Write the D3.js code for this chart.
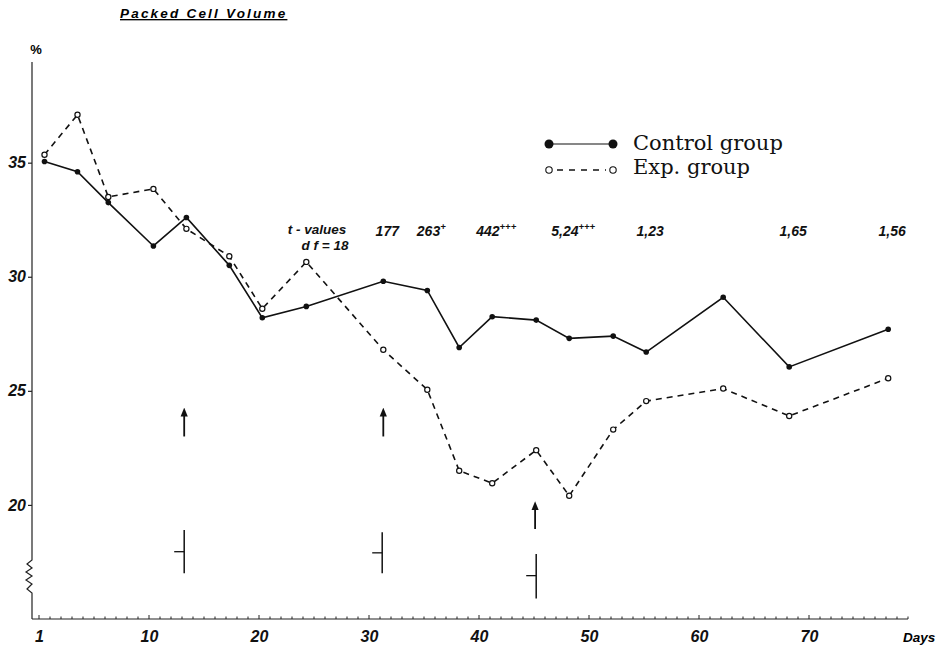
<!DOCTYPE html>
<html><head><meta charset="utf-8">
<script src="https://cdn.jsdelivr.net/npm/d3@7"></script>
<style>body{margin:0;background:#fff}svg{display:block}</style>
</head><body>
<svg id="c" width="943" height="652"></svg>
<script>
// ---- data ----
const days      = [0.5, 3.5, 6.3, 10.4, 13.4, 17.3, 20.3, 24.3, 31.3, 35.3, 38.2, 41.2, 45.2, 48.2, 52.2, 55.2, 62.2, 68.2, 77.2];
const control   = [35.05, 34.6, 33.25, 31.35, 32.6, 30.5, 28.2, 28.7, 29.8, 29.4, 26.9, 28.25, 28.1, 27.3, 27.4, 26.7, 29.1, 26.05, 27.7];
const expGroup  = [35.35, 37.1, 33.5, 33.85, 32.1, 30.9, 28.6, 30.65, 26.8, 25.05, 21.5, 20.95, 22.4, 20.4, 23.3, 24.55, 25.1, 23.9, 25.55];
const xTickValues = [0, 10, 20, 30, 40, 50, 60, 70];
const xTickLabels = ["1", "10", "20", "30", "40", "50", "60", "70"];
const yTickValues = [20, 25, 30, 35];
const tDays   = [31.3, 35.3, 41.2, 48.2, 55.2, 68.2, 77.2];
const tValues = ["177", "263", "442", "5,24", "1,23", "1,65", "1,56"];
const tSig    = ["", "+", "+++", "+++", "", "", ""];
const arrowDays = [13.2, 31.3, 45.1];
const arrowFrom = [23.0, 23.0, 18.95];
const arrowTo   = [24.2, 24.2, 20.1];
const markDays  = [13.2, 31.2, 45.2];
const markTop   = [18.9, 18.8, 17.85];
const markBot   = [17.0, 17.0, 15.9];
const markMid   = [17.95, 17.9, 16.9];

// ---- scales ----
const svg = d3.select("#c");
const x = d3.scaleLinear().domain([0, 79]).range([39, 908]);
const y = d3.scaleLinear().domain([15, 39.5]).range([619, 60]);
const AX = 32;
const lab = "'Liberation Sans', Arial, sans-serif";
const ser = "'DejaVu Serif', 'Liberation Serif', serif";

// title
svg.append("text").attr("x", 120).attr("y", 18).text("Packed Cell Volume")
  .attr("font-family", lab).attr("font-style", "italic").attr("font-weight", "bold")
  .attr("font-size", 13.5).attr("letter-spacing", 2.2).attr("text-decoration", "underline");
svg.append("text").attr("x", 36).attr("y", 54).attr("text-anchor", "middle").text("%")
  .attr("font-family", lab).attr("font-weight", "bold").attr("font-size", 13);

// y axis line with break
const yAxisLine = d3.line()([[AX, 62], [AX, 560], [27, 564], [32, 568], [26, 572], [32, 576], [26, 580], [32, 584], [27, 589], [AX, 593], [AX, 619]]);
svg.append("path").attr("d", yAxisLine).attr("fill", "none").attr("stroke", "#222").attr("stroke-width", 1.2);

const yAxis = d3.axisLeft(y).tickValues(yTickValues).tickSize(4).tickPadding(2);
const gy = svg.append("g").attr("transform", `translate(${AX},0)`).call(yAxis);
gy.select(".domain").remove();
gy.selectAll("line").attr("stroke", "#222").attr("stroke-width", 1.2);
gy.selectAll("text").attr("font-family", lab).attr("font-style", "italic").attr("font-weight", "bold")
  .attr("font-size", 16).attr("fill", "#111");

// x axis
const gx = svg.append("g").attr("transform", `translate(0,619)`);
gx.append("line").attr("x1", AX).attr("x2", 908).attr("stroke", "#222").attr("stroke-width", 1.2);
gx.call(g => g.selectAll(".minor").data(d3.range(0, 80)).join("line")
  .attr("x1", d => x(d)).attr("x2", d => x(d)).attr("y1", 0).attr("y2", d => d % 10 === 0 ? -4 : -2.5)
  .attr("stroke", "#222").attr("stroke-width", 1));
const xAxis = d3.axisBottom(x).tickValues(xTickValues).tickSize(0).tickPadding(12)
  .tickFormat((d, i) => xTickLabels[i]);
const gxa = svg.append("g").attr("transform", `translate(0,619)`).call(xAxis);
gxa.select(".domain").remove();
gxa.selectAll("text").attr("font-family", lab).attr("font-style", "italic").attr("font-weight", "bold")
  .attr("font-size", 16).attr("fill", "#111");
svg.append("text").attr("x", 903).attr("y", 642).text("Days")
  .attr("font-family", lab).attr("font-style", "italic").attr("font-weight", "bold").attr("font-size", 13.5);

// lines
const line = d3.line().x((d, i) => x(days[i])).y(d => y(d));
svg.append("path").attr("d", line(control)).attr("fill", "none").attr("stroke", "#111").attr("stroke-width", 1.6);
svg.append("path").attr("d", line(expGroup)).attr("fill", "none").attr("stroke", "#111").attr("stroke-width", 1.6)
  .attr("stroke-dasharray", "6,5");
svg.selectAll(".cdot").data(control).join("circle").attr("cx", (d, i) => x(days[i])).attr("cy", d => y(d))
  .attr("r", 2.8).attr("fill", "#111");
svg.selectAll(".edot").data(expGroup).join("circle").attr("cx", (d, i) => x(days[i])).attr("cy", d => y(d))
  .attr("r", 2.6).attr("fill", "#fff").attr("stroke", "#111").attr("stroke-width", 1.2);

// t-values
const tstyle = s => s.attr("font-family", lab).attr("font-style", "italic").attr("font-weight", "bold").attr("fill", "#111");
svg.append("text").attr("x", 317).attr("y", 234).attr("text-anchor", "middle").text("t - values").call(tstyle).attr("font-size", 13.5);
svg.append("text").attr("x", 325).attr("y", 250).attr("text-anchor", "middle").text("d f = 18").call(tstyle).attr("font-size", 13.5);
tDays.forEach((d, i) => {
  const t = svg.append("text").attr("x", x(d) + 4).attr("y", 236).attr("text-anchor", "middle").call(tstyle).attr("font-size", 14);
  t.append("tspan").text(tValues[i]);
  if (tSig[i]) t.append("tspan").attr("dy", -6).attr("font-size", 9.5).text(tSig[i]);
});

// arrows
const defs = svg.append("defs");
defs.append("marker").attr("id", "ah").attr("viewBox", "0 0 10 10").attr("refX", 5).attr("refY", 5)
  .attr("markerWidth", 5).attr("markerHeight", 6).attr("orient", "auto")
  .append("path").attr("d", "M0,1 L10,5 L0,9 Z").attr("fill", "#111");
arrowDays.forEach((d, i) => {
  svg.append("line").attr("x1", x(d)).attr("x2", x(d)).attr("y1", y(arrowFrom[i])).attr("y2", y(arrowTo[i]) + 3)
    .attr("stroke", "#111").attr("stroke-width", 1.8).attr("marker-end", "url(#ah)");
});
// ┤ markers
markDays.forEach((d, i) => {
  svg.append("line").attr("x1", x(d)).attr("x2", x(d)).attr("y1", y(markTop[i])).attr("y2", y(markBot[i]))
    .attr("stroke", "#111").attr("stroke-width", 1.5);
  svg.append("line").attr("x1", x(d) - 10).attr("x2", x(d)).attr("y1", y(markMid[i])).attr("y2", y(markMid[i]))
    .attr("stroke", "#111").attr("stroke-width", 1.3);
});

// legend
const lg = svg.append("g");
lg.append("line").attr("x1", 549).attr("x2", 613).attr("y1", 144).attr("y2", 144).attr("stroke", "#111").attr("stroke-width", 1.2);
lg.append("circle").attr("cx", 549).attr("cy", 144).attr("r", 4.5).attr("fill", "#111");
lg.append("circle").attr("cx", 613).attr("cy", 144).attr("r", 4.5).attr("fill", "#111");
lg.append("text").attr("x", 633).attr("y", 150).text("Control group").attr("font-family", ser).attr("font-size", 21).attr("fill", "#111");
lg.append("line").attr("x1", 557).attr("x2", 606).attr("y1", 170).attr("y2", 170).attr("stroke", "#111").attr("stroke-width", 1.3)
  .attr("stroke-dasharray", "6,6");
lg.append("circle").attr("cx", 549).attr("cy", 170).attr("r", 3.2).attr("fill", "none").attr("stroke", "#111").attr("stroke-width", 1.1);
lg.append("circle").attr("cx", 613).attr("cy", 170).attr("r", 3.2).attr("fill", "none").attr("stroke", "#111").attr("stroke-width", 1.1);
lg.append("text").attr("x", 633).attr("y", 174).text("Exp. group").attr("font-family", ser).attr("font-size", 21).attr("fill", "#111");
</script>
</body></html>
